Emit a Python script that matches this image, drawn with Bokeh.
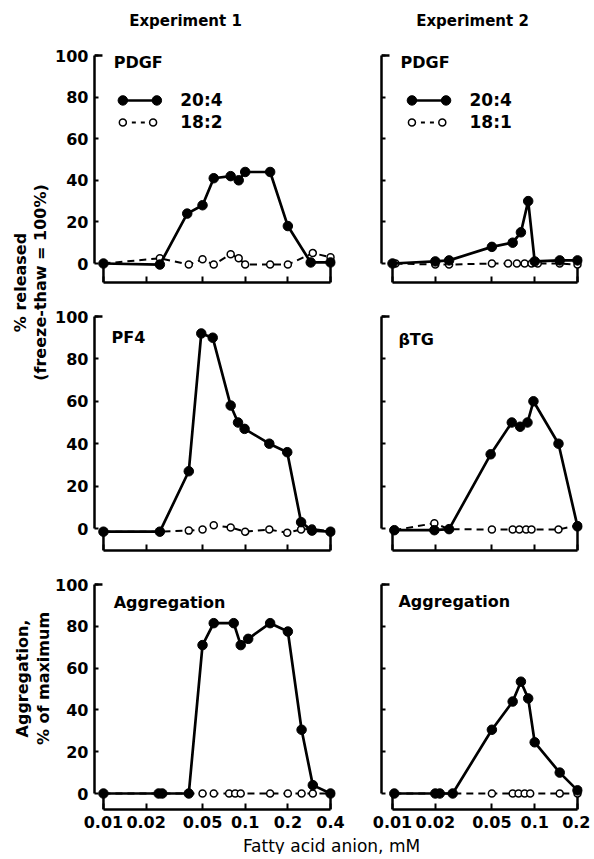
import math
from bokeh.plotting import figure
from bokeh.layouts import row, column
from bokeh.models import Range1d, FixedTicker
from bokeh.core.properties import value
from bokeh.embed import file_html
from bokeh.resources import INLINE

# ---------------- data ----------------
experiments = ["Experiment 1", "Experiment 2"]
x_ticks_exp1 = [0.01, 0.02, 0.05, 0.1, 0.2, 0.4]
x_ticks_exp2 = [0.01, 0.02, 0.05, 0.1, 0.2]
x_tick_labels_exp1 = ["0.01", "0.02", "0.05", "0.1", "0.2", "0.4"]
x_tick_labels_exp2 = ["0.01", "0.02", "0.05", "0.1", "0.2"]
y_ticks = [0, 20, 40, 60, 80, 100]
series_exp1 = ["20:4", "18:2"]
series_exp2 = ["20:4", "18:1"]
panel_titles = [["PDGF", "PDGF"], ["PF4", "\u03b2TG"], ["Aggregation", "Aggregation"]]
y_label_release = ["% released", "(freeze-thaw = 100%)"]
y_label_aggr = ["Aggregation,", "% of maximum"]
x_label = "Fatty acid anion, mM"

# Experiment 1, PDGF
pdgf1_aa_x = [0.01, 0.025, 0.039, 0.05, 0.06, 0.079, 0.09, 0.1, 0.15, 0.2, 0.29, 0.4]
pdgf1_aa_y = [0, -0.5, 24, 28, 41, 42, 40, 44, 44, 18, 0.5, 0.5]
pdgf1_la_x = [0.01, 0.025, 0.04, 0.05, 0.06, 0.079, 0.09, 0.1, 0.15, 0.2, 0.3, 0.4]
pdgf1_la_y = [0, 2.5, -0.5, 2, -0.5, 4.5, 2.5, -0.5, -0.5, -0.5, 5, 3]
# Experiment 2, PDGF
pdgf2_aa_x = [0.01, 0.02, 0.025, 0.05, 0.07, 0.08, 0.09, 0.1, 0.15, 0.2]
pdgf2_aa_y = [0, 1, 1.5, 8, 10, 15, 30, 1, 1.5, 1.5]
pdgf2_ol_x = [0.0105, 0.02, 0.025, 0.05, 0.065, 0.075, 0.085, 0.095, 0.105, 0.15, 0.2]
pdgf2_ol_y = [0, -0.5, -0.5, 0, 0, 0, 0, 0, 0, 0, -0.5]
# Experiment 1, PF4
pf4_aa_x = [0.01, 0.025, 0.04, 0.049, 0.059, 0.079, 0.089, 0.099, 0.148, 0.198, 0.248, 0.296, 0.4]
pf4_aa_y = [-1.5, -1.5, 27, 92, 90, 58, 50, 47, 40, 36, 3, -1, -1.5]
pf4_la_x = [0.01, 0.025, 0.04, 0.05, 0.06, 0.079, 0.1, 0.148, 0.198, 0.248, 0.296, 0.4]
pf4_la_y = [-1.5, -1.5, -1, -0.5, 1.5, 0.5, -1.5, -0.5, -2, -0.5, 0, -1.5]
# Experiment 2, beta-TG
btg_aa_x = [0.0103, 0.0197, 0.025, 0.049, 0.069, 0.079, 0.089, 0.098, 0.147, 0.2]
btg_aa_y = [-0.8, -0.8, -0.3, 35, 50, 48, 50, 60, 40, 1]
btg_ol_x = [0.0103, 0.0197, 0.025, 0.05, 0.07, 0.078, 0.087, 0.095, 0.147, 0.2]
btg_ol_y = [-0.8, 2.5, -0.3, -0.5, -0.5, -0.5, -0.5, -0.5, -0.5, 1.5]
# Experiment 1, aggregation
agg1_aa_x = [0.01, 0.0245, 0.026, 0.04, 0.05, 0.06, 0.083, 0.093, 0.105, 0.15, 0.2, 0.25, 0.3, 0.4]
agg1_aa_y = [0, 0, 0, 0, 71, 81.5, 81.5, 71, 74, 81.5, 77.5, 30.5, 4, 0]
agg1_la_x = [0.01, 0.025, 0.04, 0.05, 0.06, 0.077, 0.085, 0.093, 0.15, 0.2, 0.25, 0.3, 0.4]
agg1_la_y = [0, 0, 0, 0, 0, 0, 0, 0, 0, 0, 0, 0, 0]
# Experiment 2, aggregation
agg2_aa_x = [0.0103, 0.02, 0.0215, 0.0265, 0.05, 0.07, 0.08, 0.09, 0.1, 0.15, 0.2]
agg2_aa_y = [0, 0, 0, 0, 30.5, 44, 53.5, 45.5, 24.5, 10, 1.5]
agg2_ol_x = [0.0103, 0.02, 0.0265, 0.05, 0.07, 0.077, 0.085, 0.093, 0.15, 0.2]
agg2_ol_y = [0, 0, 0, 0, 0, 0, 0, 0, 0, 0]

# ---------------- layout constants (page pixels) ----------------
FONT = value("DejaVu Sans")
LAB_W = 52
HEAD_H = 38
FOOT_H = 20
COLS = [
    dict(bl=41, fw=242, br=20, fl=93, x0=102, x1=330),
    dict(bl=26, fw=201, br=8, fl=381, x0=392, x1=577),
]
ROWS = [
    dict(bt=11, fh=233, bb=14, ft=49, y100=55, y0=263),
    dict(bt=14, fh=240, bb=14, ft=310, y100=316, y0=528),
    dict(bt=14, fh=231, bb=25, ft=578, y100=584, y0=793),
]
X_TICKS = [x_ticks_exp1, x_ticks_exp2]
X_LABELS = [x_tick_labels_exp1, x_tick_labels_exp2]
TITLE_POS = [[(0.0118, 96.5), (0.0114, 96.5)], [(0.0114, 90), (0.0110, 89)], [(0.0118, 91.5), (0.0110, 92)]]
LEG_Y = [78.4, 67.8]
LEG_MX = [[0.0137, 0.0238], [0.0137, 0.0224]]
LEG_TX = 0.0348


def make_panel(ci, ri, a_x, a_y, b_x, b_y, names=None):
    cg, rg = COLS[ci], ROWS[ri]
    ticks = X_TICKS[ci]
    ppd = (cg["x1"] - cg["x0"]) / math.log10(ticks[-1] / ticks[0])
    xs = 10 ** (math.log10(ticks[0]) - (cg["x0"] - cg["fl"]) / ppd)
    xe = 10 ** (math.log10(ticks[-1]) + (cg["fl"] + cg["fw"] - cg["x1"]) / ppd)
    k = (rg["y0"] - rg["y100"]) / 100.0
    ye = 100 + (rg["y100"] - rg["ft"]) / k
    ys = -(rg["ft"] + rg["fh"] - rg["y0"]) / k
    p = figure(width=cg["bl"] + cg["fw"] + cg["br"], height=rg["bt"] + rg["fh"] + rg["bb"],
               x_axis_type="log", x_range=Range1d(xs, xe), y_range=Range1d(ys, ye),
               min_border_left=cg["bl"], min_border_right=cg["br"],
               min_border_top=rg["bt"], min_border_bottom=rg["bb"],
               output_backend="svg", toolbar_location=None)
    p.outline_line_color = None
    p.grid.visible = False
    p.background_fill_color = "white"
    p.border_fill_color = "white"

    xa = p.xaxis[0]
    xa.ticker = FixedTicker(ticks=ticks, minor_ticks=[])
    xa.bounds = (ticks[0], ticks[-1])
    xa.axis_line_width = 2.5
    xa.major_tick_in = 6
    xa.major_tick_out = 0
    xa.major_tick_line_width = 2
    xa.minor_tick_line_color = None
    if ri == 2:
        xa.major_label_overrides = {t: l for t, l in zip(ticks, X_LABELS[ci])}
        xa.major_label_text_font = "DejaVu Sans"
        xa.major_label_text_font_style = "bold"
        xa.major_label_text_font_size = "16px"
        xa.major_label_text_color = "black"
        xa.major_label_standoff = 6
    else:
        xa.major_label_overrides = {t: "" for t in ticks}
        xa.major_label_text_font_size = "1px"
        xa.major_label_standoff = 0

    ya = p.yaxis[0]
    ya.ticker = FixedTicker(ticks=y_ticks, minor_ticks=[])
    ya.bounds = (0, 100)
    ya.axis_line_width = 2.5
    ya.major_tick_in = 4
    ya.major_tick_out = 0
    ya.major_tick_line_width = 2
    ya.minor_tick_line_color = None
    if ci == 0:
        ya.major_label_text_font = "DejaVu Sans"
        ya.major_label_text_font_style = "bold"
        ya.major_label_text_font_size = "16px"
        ya.major_label_text_color = "black"
        ya.major_label_standoff = 6
    else:
        ya.major_label_overrides = {t: "" for t in y_ticks}
        ya.major_label_text_font_size = "1px"
        ya.major_label_standoff = 0

    # bracket details: top tick at 100, raised ends of the concentration bracket
    p.segment(x0=[xs], y0=[100], x1=[xs * 10 ** (8 / ppd)], y1=[100], line_width=2.5, line_color="black")
    p.segment(x0=[ticks[0], ticks[-1]], y0=[ys, ys], x1=[ticks[0], ticks[-1]], y1=[0, 0],
              line_width=2.5, line_color="black")

    # series
    p.line(b_x, b_y, line_dash="7 5", line_width=2, line_color="black")
    p.scatter(b_x, b_y, size=7, fill_color="white", line_color="black", line_width=1.5)
    p.line(a_x, a_y, line_width=2.7, line_color="black")
    p.scatter(a_x, a_y, size=9.5, fill_color="black", line_color="black")

    tx, ty = TITLE_POS[ri][ci]
    p.text(x=[tx], y=[ty], text=[panel_titles[ri][ci]], text_font=FONT, text_font_style="bold",
           text_font_size="16px", text_baseline="middle", text_align="left", text_color="black")

    if names is not None:
        mx = LEG_MX
        p.line(mx[0], [LEG_Y[0]] * 2, line_width=2.5, line_color="black")
        p.scatter(mx[0], [LEG_Y[0]] * 2, size=9.5, fill_color="black", line_color="black")
        p.line(mx[1], [LEG_Y[1]] * 2, line_width=2, line_dash="4 5", line_color="black")
        p.scatter(mx[1], [LEG_Y[1]] * 2, size=7, fill_color="white", line_color="black", line_width=1.5)
        p.text(x=[LEG_TX, LEG_TX], y=LEG_Y, text=names, text_font=FONT, text_font_style="bold",
               text_font_size="17px", text_baseline="middle", text_align="left", text_color="black")
    return p


def blank(w, h):
    p = figure(width=w, height=h, x_range=Range1d(0, w), y_range=Range1d(0, h),
               x_axis_type=None, y_axis_type=None, min_border=0,
               min_border_left=0, min_border_right=0, min_border_top=0, min_border_bottom=0,
               output_backend="svg", toolbar_location=None)
    p.outline_line_color = None
    p.grid.visible = False
    return p


p11 = make_panel(0, 0, pdgf1_aa_x, pdgf1_aa_y, pdgf1_la_x, pdgf1_la_y, series_exp1)
p12 = make_panel(1, 0, pdgf2_aa_x, pdgf2_aa_y, pdgf2_ol_x, pdgf2_ol_y, series_exp2)
p21 = make_panel(0, 1, pf4_aa_x, pf4_aa_y, pf4_la_x, pf4_la_y)
p22 = make_panel(1, 1, btg_aa_x, btg_aa_y, btg_ol_x, btg_ol_y)
p31 = make_panel(0, 2, agg1_aa_x, agg1_aa_y, agg1_la_x, agg1_la_y)
p32 = make_panel(1, 2, agg2_aa_x, agg2_aa_y, agg2_ol_x, agg2_ol_y)

total_w = LAB_W + sum(c["bl"] + c["fw"] + c["br"] for c in COLS)

header = blank(total_w, HEAD_H)
header.text(x=[185, 472], y=[HEAD_H - 20] * 2, text=experiments, text_font=FONT, text_font_style="bold",
            text_font_size="15px", text_align="center", text_baseline="middle", text_color="black")

h12 = ROWS[0]["bt"] + ROWS[0]["fh"] + ROWS[0]["bb"] + ROWS[1]["bt"] + ROWS[1]["fh"] + ROWS[1]["bb"]
labA = blank(LAB_W, h12)
labA.text(x=[20, 40], y=[h12 - (282 - HEAD_H)] * 2, text=y_label_release, angle=math.pi / 2, text_font=FONT,
          text_font_style="bold", text_font_size="16px", text_align="center", text_baseline="middle",
          text_color="black")
h3 = ROWS[2]["bt"] + ROWS[2]["fh"] + ROWS[2]["bb"]
labB = blank(LAB_W, h3)
top3 = HEAD_H + h12
labB.text(x=[22, 43], y=[h3 - (678 - top3)] * 2, text=y_label_aggr, angle=math.pi / 2, text_font=FONT,
          text_font_style="bold", text_font_size="16px", text_align="center", text_baseline="middle",
          text_color="black")

footer = blank(total_w, FOOT_H)
footer.text(x=[331], y=[FOOT_H / 2 - 1], text=[x_label], text_font=FONT, text_font_size="17px",
            text_align="center", text_baseline="middle", text_color="black")

layout = column(
    header,
    row(labA, column(row(p11, p12), row(p21, p22))),
    row(labB, row(p31, p32)),
    footer,
)

open("out.html", "w").write(file_html(layout, INLINE))
